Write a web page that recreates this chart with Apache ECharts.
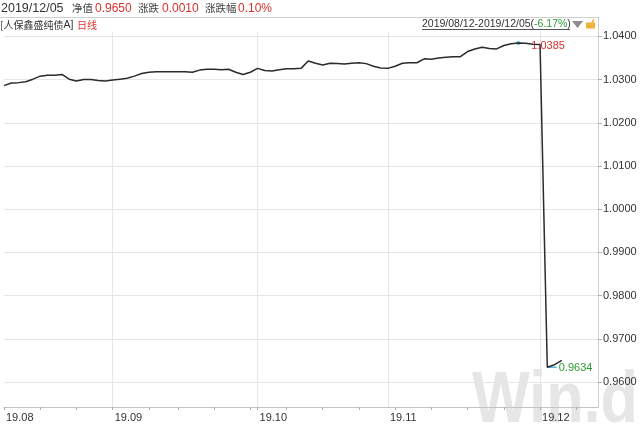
<!DOCTYPE html>
<html><head><meta charset="utf-8">
<script src="https://cdn.jsdelivr.net/npm/echarts@6/dist/echarts.min.js"></script>
<style>html,body{margin:0;padding:0;background:#fff}#c{width:640px;height:424px}</style>
</head><body><div id="c"></div>
<script>
// ---- data ----
const tradingDays = [
 '2019-08-12','2019-08-13','2019-08-14','2019-08-15','2019-08-16',
 '2019-08-19','2019-08-20','2019-08-21','2019-08-22','2019-08-23',
 '2019-08-26','2019-08-27','2019-08-28','2019-08-29','2019-08-30',
 '2019-09-02','2019-09-03','2019-09-04','2019-09-05','2019-09-06',
 '2019-09-09','2019-09-10','2019-09-11','2019-09-12',
 '2019-09-16','2019-09-17','2019-09-18','2019-09-19','2019-09-20',
 '2019-09-23','2019-09-24','2019-09-25','2019-09-26','2019-09-27',
 '2019-09-30',
 '2019-10-08','2019-10-09','2019-10-10','2019-10-11',
 '2019-10-14','2019-10-15','2019-10-16','2019-10-17','2019-10-18',
 '2019-10-21','2019-10-22','2019-10-23','2019-10-24','2019-10-25',
 '2019-10-28','2019-10-29','2019-10-30','2019-10-31',
 '2019-11-01',
 '2019-11-04','2019-11-05','2019-11-06','2019-11-07','2019-11-08',
 '2019-11-11','2019-11-12','2019-11-13','2019-11-14','2019-11-15',
 '2019-11-18','2019-11-19','2019-11-20','2019-11-21','2019-11-22',
 '2019-11-25','2019-11-26','2019-11-27','2019-11-28','2019-11-29',
 '2019-12-02','2019-12-03','2019-12-04','2019-12-05'
];
// empty trading days kept on the axis to the right of the last value
const padDays = ['2019-12-06','2019-12-09','2019-12-10','2019-12-11','2019-12-12'];
const navValues = [
 1.0286, 1.0292, 1.0293, 1.0295, 1.0301,
 1.0308, 1.0310, 1.0310, 1.0312, 1.0301,
 1.0297, 1.0300, 1.0300, 1.0298, 1.0297,
 1.0299, 1.0301, 1.0303, 1.0308, 1.0314,
 1.0317, 1.0318, 1.0318, 1.0318,
 1.0318, 1.0318, 1.0317, 1.0322, 1.0324,
 1.0324, 1.0323, 1.0324, 1.0317, 1.0312,
 1.0317,
 1.0326, 1.0321, 1.0320, 1.0323,
 1.0325, 1.0325, 1.0326, 1.0343, 1.0338,
 1.0334, 1.0338, 1.0337, 1.0336, 1.0338,
 1.0339, 1.0337, 1.0331, 1.0327,
 1.0326,
 1.0331, 1.0338, 1.0339, 1.0339, 1.0348,
 1.0347, 1.0350, 1.0352, 1.0353, 1.0353,
 1.0365, 1.0371, 1.0375, 1.0372, 1.0371,
 1.0379, 1.0383, 1.0385, 1.0384, 1.0382,
 1.0381, 0.9634, 0.9640, 0.9650
];
const yTicks = [0.96, 0.97, 0.98, 0.99, 1.00, 1.01, 1.02, 1.03, 1.04];
const yMin = 0.95421, yMax = 1.04102;

// ---- derived ----
const categories = tradingDays.concat(padDays);
const monthStart = categories.map((d, i) => i === 0 || d.slice(0, 7) !== categories[i - 1].slice(0, 7));
const dow = d => new Date(d + 'T00:00:00Z').getUTCDay();
const weekStart = categories.map((d, i) => {
  if (i === 0) return true;
  const prev = categories[i - 1];
  const gap = (new Date(d + 'T00:00:00Z') - new Date(prev + 'T00:00:00Z')) / 86400000;
  return gap > 2 || dow(d) <= dow(prev);
});

const FONT = "'Liberation Sans', 'Noto Sans CJK SC', sans-serif";
const CJK = "'Noto Sans CJK SC', sans-serif";
const RED = '#d9312e', GREEN = '#2e9b34', TXT = '#333333', FRAME = '#cfcfcf', GRID = '#e6e6e6';

const chart = echarts.init(document.getElementById('c'), null, {renderer: 'canvas'});
function t(text, x, y, fill, size, fam) {
  return {type: 'text', z: 20, style: {text: text, x: x, y: y, fill: fill,
    fontSize: size || 12, fontFamily: fam || FONT, verticalAlign: 'middle'}};
}
chart.setOption({
  animation: false,
  backgroundColor: '#ffffff',
  grid: {left: 4, right: 42, top: 32, bottom: 17},
  xAxis: {
    type: 'category', data: categories, boundaryGap: false,
    axisLine: {lineStyle: {color: '#c4c4c4', width: 1}},
    axisTick: {show: true, interval: (i) => weekStart[i], length: 3, lineStyle: {color: '#b0b0b0'}},
    axisLabel: {interval: (i) => monthStart[i], align: 'left', margin: 5, padding: [0, 0, 0, 2],
      fontSize: 11, fontFamily: FONT, color: TXT,
      formatter: v => v.slice(2, 4) + '.' + v.slice(5, 7)},
    splitLine: {show: true, interval: (i) => monthStart[i] && i > 0, lineStyle: {color: GRID, width: 1}}
  },
  yAxis: {
    type: 'value', position: 'right', min: yMin, max: yMax,
    axisLine: {show: true, lineStyle: {color: FRAME, width: 1}},
    axisTick: {show: true, customValues: yTicks, length: 4, lineStyle: {color: '#b0b0b0'}},
    axisLabel: {customValues: yTicks, formatter: v => v.toFixed(4), margin: 5,
      fontSize: 11, fontFamily: FONT, color: TXT},
    splitLine: {show: true, lineStyle: {color: GRID, width: 1}}
  },
  series: [{
    type: 'line', data: navValues, showSymbol: false, symbol: 'none', z: 5,
    lineStyle: {color: '#2b2b2b', width: 1.5},
    markPoint: {
      symbol: 'circle', symbolSize: 4,
      label: {fontSize: 11, fontFamily: FONT},
      data: [
        {type: 'max', itemStyle: {color: '#56b8d8'},
         label: {show: true, position: 'right', distance: 5, offset: [6, 3], color: RED,
           formatter: p => Number(p.value).toFixed(4)}},
        {type: 'min', symbol: 'rect', symbolSize: [9, 1.5], symbolOffset: [5, 0], itemStyle: {color: '#56b8d8'},
         label: {show: true, position: 'right', distance: 2, offset: [0, 1], color: GREEN,
           formatter: p => Number(p.value).toFixed(4)}}
      ]
    }
  }],
  graphic: [
    {type: 'text', z: -1, silent: true, x: 472, y: 366, scaleX: 0.85, scaleY: 1,
      style: {text: 'Win.d', x: 0, y: 0, fill: '#e6e6e6',
      fontSize: 72, fontWeight: 'bold', fontFamily: "'Liberation Sans', sans-serif",
      verticalAlign: 'top'}},
    {type: 'line', z: 15, shape: {x1: 0, y1: 17.5, x2: 598.5, y2: 17.5}, style: {stroke: FRAME, lineWidth: 1}},
    {type: 'line', z: 15, shape: {x1: 598.5, y1: 17.5, x2: 598.5, y2: 32}, style: {stroke: FRAME, lineWidth: 1}},
    t('2019/12/05', 1, 8.5, TXT, 12.5),
    t('净值', 72, 8.5, '#444', 10.5, CJK),
    t('0.9650', 95, 8.5, RED, 12),
    t('涨跌', 138, 8.5, '#444', 10.5, CJK),
    t('0.0010', 162, 8.5, RED, 12),
    t('涨跌幅', 205, 8.5, '#444', 10.5, CJK),
    t('0.10%', 238, 8.5, RED, 12),
    {type: 'text', z: 20, style: {
      text: '{a|[人保鑫盛纯债}{b|A]}', x: 0, y: 25.5, verticalAlign: 'middle',
      rich: {a: {fill: TXT, fontSize: 10, fontFamily: CJK}, b: {fill: TXT, fontSize: 10.5, fontFamily: FONT}}}},
    t('日线', 77, 25.5, RED, 10, CJK),
    {type: 'text', z: 20, style: {
      text: '{a|2019/08/12-2019/12/05(}{g|-6.17%}{a|)}', x: 422, y: 24.5, verticalAlign: 'middle',
      fontSize: 10.5, fontFamily: FONT,
      rich: {a: {fill: TXT, fontSize: 10.5, fontFamily: FONT}, g: {fill: GREEN, fontSize: 10.5, fontFamily: FONT}}}},
    {type: 'line', z: 20, shape: {x1: 422, y1: 29.5, x2: 570, y2: 29.5}, style: {stroke: '#555', lineWidth: 1}},
    {type: 'polygon', z: 20, shape: {points: [[572, 21], [583, 21], [577.5, 28]]}, style: {fill: '#8c8c8c'}},
    {type: 'rect', z: 20, shape: {x: 586, y: 22.5, width: 9, height: 6}, style: {fill: '#f1b23a'}},
    {type: 'line', z: 20, shape: {x1: 592, y1: 22.5, x2: 594, y2: 19.5}, style: {stroke: '#f1b23a', lineWidth: 1.5}}
  ]
});
</script></body></html>
